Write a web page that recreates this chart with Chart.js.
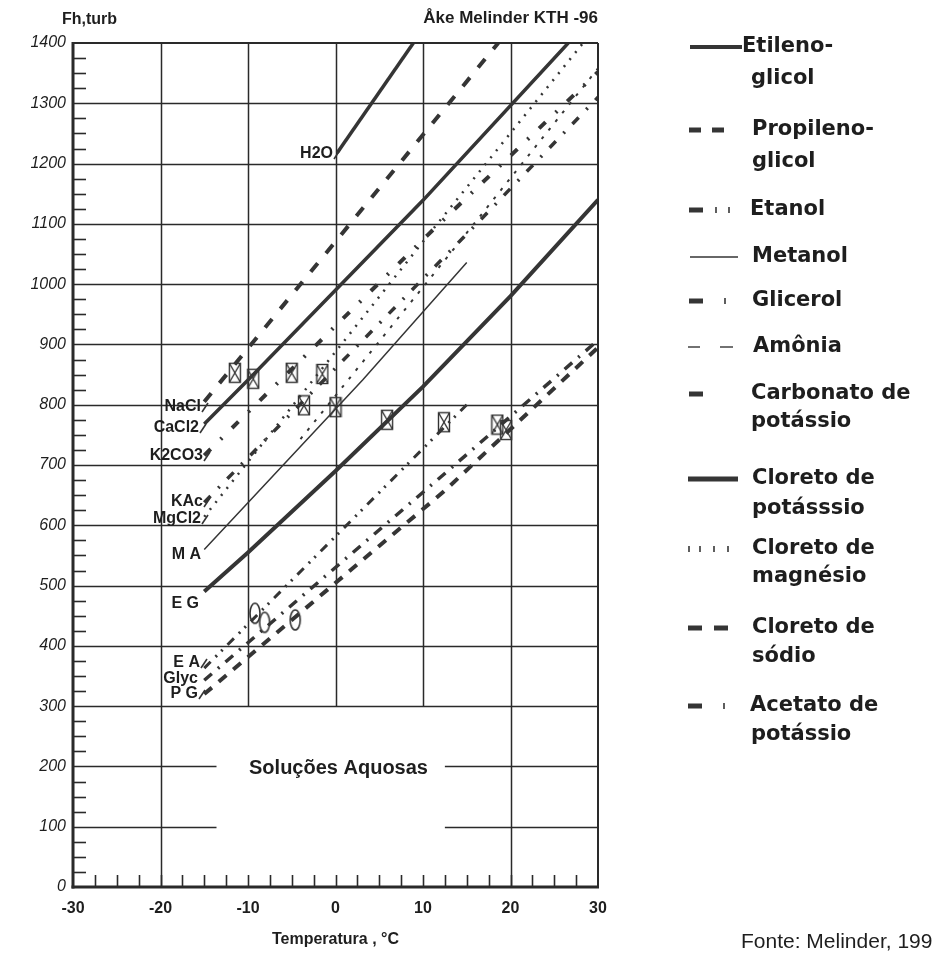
<!DOCTYPE html>
<html lang="pt">
<head>
<meta charset="utf-8">
<title>Fh,turb - Soluções Aquosas</title>
<script src="https://cdn.jsdelivr.net/npm/chart.js@4.4.1/dist/chart.umd.min.js"></script>
<style>
  html, body { margin: 0; padding: 0; background: #fff; }
  #quadro { width: 932px; height: 955px; position: relative; }
</style>
</head>
<body>
<div id="quadro"><canvas id="grafico"></canvas></div>
<script>
// Valores: x = temperatura (°C), y = Fh,turb
const ticksX = [-30, -20, -10, 0, 10, 20, 30];
const ticksY = [0, 100, 200, 300, 400, 500, 600, 700, 800, 900, 1000, 1100, 1200, 1300, 1400];

const agua = [[0.2, 1218], [8.9, 1400]];
const cloretoSodio = [[-15, 805], [18.6, 1400]];
const cloretoCalcio = [[-15, 768], [-10, 841], [10, 1139], [26.6, 1400]];
const carbonatoPotassio = [[-15, 716], [10.5, 1081], [30, 1352]];
const acetatoPotassio = [[-15, 638], [16.2, 1101], [30, 1310]];
const cloretoMagnesio = [[-15, 614], [10.8, 1085], [28.3, 1400]];
const amonia = [[-4, 743], [15, 1085], [30, 1358]];
const metanol = [[-15, 560], [3.1, 841], [15, 1036]];
const etilenoglicol = [[-15, 490], [-10, 555], [0, 690], [10, 830], [20, 980], [30, 1140]];
const etanol = [[-15, 363], [-2.1, 551], [15, 800]];
const glicerol = [[-15, 343], [12.9, 691], [30, 907]];
const propilenoglicol = [[-15, 320], [2, 529], [12.3, 655], [30, 895]];

// pontos medidos (caixas com X) e ovais
const pontosCaixa = [[-11.5, 853], [-9.4, 843], [-5.0, 853], [-1.5, 851], [-3.6, 799], [0.0, 796], [5.9, 775], [12.4, 771], [18.5, 767], [19.5, 758]];
const pontosOval = [[-9.2, 454], [-8.1, 439], [-4.6, 443]];

const cor = '#353535';
const corTexto = '#1e1e1e';
const pt = (arr) => arr.map(([x, y]) => ({ x, y }));

function serie(dados, largura, tracejado) {
  return {
    data: pt(dados),
    showLine: true,
    borderColor: cor,
    borderWidth: largura,
    borderDash: tracejado || [],
    borderCapStyle: 'butt',
    pointRadius: 0,
    tension: 0
  };
}

function caixaX() {
  const c = document.createElement('canvas');
  c.width = 14; c.height = 22;
  const g = c.getContext('2d');
  g.strokeStyle = '#333'; g.lineWidth = 1.4;
  g.strokeRect(1.5, 1.5, 11, 19);
  g.beginPath();
  g.moveTo(1.5, 1.5); g.lineTo(12.5, 20.5);
  g.moveTo(12.5, 1.5); g.lineTo(1.5, 20.5);
  g.stroke();
  return c;
}
function oval() {
  const c = document.createElement('canvas');
  c.width = 14; c.height = 24;
  const g = c.getContext('2d');
  g.strokeStyle = '#333'; g.lineWidth = 1.6;
  g.beginPath();
  g.ellipse(7, 12, 5, 10, 0, 0, Math.PI * 2);
  g.stroke();
  return c;
}

// Rótulos junto às curvas (posição em pixels)
const rotulos = [
  ['NaCl', 201, 407, true], ['CaCl2', 199, 428, true], ['K2CO3', 203, 456, true],
  ['KAc', 203, 502, true], ['MgCl2', 201, 519, true], ['M A', 201, 555, false],
  ['E G', 199, 604, false], ['E A', 200, 663, true], ['Glyc', 198, 679, false],
  ['P G', 198, 694, true], ['H2O', 333, 154, true]
];

// Legenda à direita
const legenda = [
  { t: ['Etileno-', 'glicol'], y: 47, x: 742, tipo: 'grosso', d: 32 },
  { t: ['Propileno-', 'glicol'], y: 130, x: 752, tipo: 'tracos', d: 32 },
  { t: ['Etanol'], y: 210, x: 750, tipo: 'traco2' },
  { t: ['Metanol'], y: 257, x: 752, tipo: 'fino' },
  { t: ['Glicerol'], y: 301, x: 752, tipo: 'traco1' },
  { t: ['Amônia'], y: 347, x: 753, tipo: 'finos' },
  { t: ['Carbonato de', 'potássio'], y: 394, x: 751, tipo: 'so', d: 28 },
  { t: ['Cloreto de', 'potásssio'], y: 479, x: 752, tipo: 'grosso2', d: 30 },
  { t: ['Cloreto de', 'magnésio'], y: 549, x: 752, tipo: 'pontos', d: 28 },
  { t: ['Cloreto de', 'sódio'], y: 628, x: 752, tipo: 'tracos2', d: 29 },
  { t: ['Acetato de', 'potássio'], y: 706, x: 750, tipo: 'traco1b', d: 29 }
];

function linha(ctx, x1, y1, x2, y2) {
  ctx.beginPath(); ctx.moveTo(x1, y1); ctx.lineTo(x2, y2); ctx.stroke();
}

const fundo = {
  id: 'fundo',
  beforeDraw(chart) {
    const ctx = chart.ctx;
    ctx.save();
    ctx.fillStyle = '#fff';
    ctx.fillRect(0, 0, chart.width, chart.height);
    ctx.restore();
  },
  beforeDatasetsDraw(chart) {
    const { ctx, chartArea: a, scales: { x, y } } = chart;
    ctx.save();
    ctx.strokeStyle = '#2a2a2a';
    ctx.lineWidth = 1.5;
    // grade vertical
    [-20, -10, 0, 10, 20].forEach((v) => {
      const px = Math.round(x.getPixelForValue(v)) + 0.5;
      const base = (v === -20 || v === 20) ? 0 : 300;
      linha(ctx, px, y.getPixelForValue(base), px, a.top);
    });
    // grade horizontal
    for (let v = 100; v <= 1300; v += 100) {
      const py = Math.round(y.getPixelForValue(v)) + 0.5;
      if (v >= 300) {
        linha(ctx, a.left, py, a.right, py);
      } else {
        linha(ctx, a.left, py, x.getPixelForValue(-13.6), py);
        linha(ctx, x.getPixelForValue(12.5), py, a.right, py);
      }
    }
    // marcas menores
    ctx.lineWidth = 1.6;
    for (let v = 25; v < 1400; v += 25) {
      if (v % 100 === 0) continue;
      const py = Math.round(y.getPixelForValue(v)) + 0.5;
      linha(ctx, a.left, py, a.left + 13, py);
    }
    for (let v = -27.5; v < 30; v += 2.5) {
      const px = Math.round(x.getPixelForValue(v)) + 0.5;
      linha(ctx, px, a.bottom, px, a.bottom - 12);
    }
    ctx.restore();
  },
  afterDatasetsDraw(chart) {
    const { ctx, chartArea: a, scales: { x, y } } = chart;
    ctx.save();
    // moldura
    ctx.strokeStyle = '#2a2a2a';
    ctx.lineWidth = 2;
    linha(ctx, a.left, a.top, a.right, a.top);
    linha(ctx, a.right, a.top, a.right, a.bottom);
    ctx.lineWidth = 3;
    linha(ctx, a.left, a.top - 1, a.left, a.bottom + 1.5);
    linha(ctx, a.left - 1.5, a.bottom, a.right + 1, a.bottom);

    ctx.fillStyle = corTexto;
    ctx.textBaseline = 'middle';
    // títulos
    ctx.font = 'bold 16px "Liberation Sans", sans-serif';
    ctx.textAlign = 'left';
    ctx.fillText('Fh,turb', 62, 20);
    ctx.font = 'bold 17px "Liberation Sans", sans-serif';
    ctx.textAlign = 'right';
    ctx.fillText('Åke Melinder KTH -96', a.right, 18);
    ctx.textAlign = 'center';
    ctx.font = 'bold 16px "Liberation Sans", sans-serif';
    ctx.fillText('Temperatura , °C', x.getPixelForValue(0), 940);
    ctx.font = 'bold 20px "Liberation Sans", sans-serif';
    ctx.fillText('Soluções Aquosas', x.getPixelForValue(0) + 3, y.getPixelForValue(200) + 2);
    ctx.font = '21px "Liberation Sans", sans-serif';
    ctx.textAlign = 'left';
    ctx.fillText('Fonte: Melinder, 1997', 741, 942);

    // rótulos das curvas
    ctx.font = 'bold 16px "Liberation Sans", sans-serif';
    ctx.textAlign = 'right';
    ctx.strokeStyle = cor;
    ctx.lineWidth = 1.6;
    rotulos.forEach(([t, rx, ry, seta]) => {
      ctx.fillText(t, rx, ry);
      if (seta) linha(ctx, rx + 1, ry + 5, rx + 7, ry - 4);
    });

    // legenda
    ctx.textAlign = 'left';
    ctx.font = 'bold 21px "DejaVu Sans", sans-serif';
    legenda.forEach((e) => {
      e.t.forEach((s, i) => ctx.fillText(s, i === 0 ? e.x : Math.max(e.x, 751), e.y + i * (e.d || 30)));
      desenhaAmostra(ctx, e.tipo, e.y);
    });
    ctx.restore();
  }
};

function desenhaAmostra(ctx, tipo, yy) {
  ctx.save();
  ctx.strokeStyle = cor;
  ctx.lineCap = 'butt';
  const traco = (x1, x2, w) => { ctx.lineWidth = w; linha(ctx, x1, yy, x2, yy); };
  const tick = (xx) => { ctx.lineWidth = 1.6; linha(ctx, xx, yy - 3, xx, yy + 3); };
  switch (tipo) {
    case 'grosso': traco(690, 742, 4); break;
    case 'tracos': traco(689, 701, 5); traco(712, 724, 5); break;
    case 'traco2': traco(689, 703, 5); tick(716); tick(729); break;
    case 'fino': traco(690, 738, 1.4); break;
    case 'traco1': traco(689, 703, 5); tick(725); break;
    case 'finos': traco(688, 700, 1.4); traco(720, 733, 1.4); break;
    case 'so': traco(689, 703, 5); break;
    case 'grosso2': traco(688, 738, 5); break;
    case 'pontos': tick(689); tick(700); tick(714); tick(728); break;
    case 'tracos2': traco(688, 702, 5); traco(714, 728, 5); break;
    case 'traco1b': traco(688, 702, 5); tick(724); break;
  }
  ctx.restore();
}

new Chart(document.getElementById('grafico'), {
  type: 'scatter',
  data: {
    datasets: [
      serie(agua, 3.5),
      serie(cloretoSodio, 4, [11, 13]),
      serie(cloretoCalcio, 3.5),
      serie(carbonatoPotassio, 4, [9, 14, 2, 14]),
      serie(acetatoPotassio, 3.5, [9, 11, 2, 11]),
      serie(cloretoMagnesio, 2.5, [2, 7]),
      serie(amonia, 2, [3, 8]),
      serie(metanol, 1.5),
      serie(etilenoglicol, 4),
      serie(etanol, 3, [9, 7, 2, 6, 2, 7]),
      serie(glicerol, 3.5, [10, 8, 2, 8]),
      serie(propilenoglicol, 4, [10, 9]),
      {
        data: pt(pontosCaixa), pointStyle: caixaX(), pointRadius: 6, showLine: false
      },
      {
        data: pt(pontosOval), pointStyle: oval(), pointRadius: 6, showLine: false
      }
    ]
  },
  options: {
    responsive: true,
    maintainAspectRatio: false,
    animation: false,
    layout: { padding: { left: 0, top: 43, right: 334, bottom: 0 } },
    plugins: { legend: { display: false }, tooltip: { enabled: false } },
    scales: {
      x: {
        type: 'linear', min: -30, max: 30,
        afterFit(s) { s.height = 68; },
        afterBuildTicks(s) { s.ticks = ticksX.map((v) => ({ value: v })); },
        ticks: {
          color: corTexto, padding: 12, maxRotation: 0, autoSkip: false,
          callback: (v) => String(v),
          font: { family: '"Liberation Sans", sans-serif', weight: 'bold', size: 16 }
        },
        grid: { display: false, drawTicks: false },
        border: { display: false }
      },
      y: {
        type: 'linear', min: 0, max: 1400,
        afterFit(s) { s.width = 73; },
        afterBuildTicks(s) { s.ticks = ticksY.map((v) => ({ value: v })); },
        ticks: {
          color: corTexto, padding: 7, autoSkip: false,
          callback: (v) => String(v),
          font: { family: '"Liberation Sans", sans-serif', style: 'italic', size: 16 }
        },
        grid: { display: false, drawTicks: false },
        border: { display: false }
      }
    }
  },
  plugins: [fundo]
});
</script>
</body>
</html>
